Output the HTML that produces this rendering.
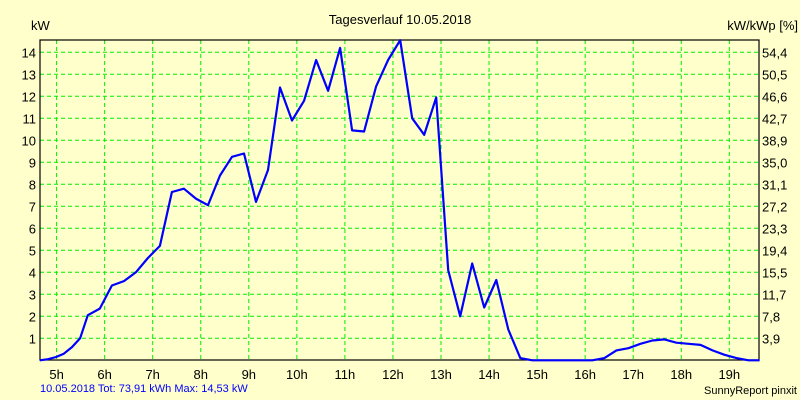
<!DOCTYPE html>
<html><head><meta charset="utf-8"><style>
body{margin:0;background:#ffffcc;}
svg{display:block;font-family:"Liberation Sans",sans-serif;}
</style></head><body>
<svg id="chart" width="800" height="400" viewBox="0 0 800 400">
<rect x="0" y="0" width="800" height="400" fill="#ffffcc"/>
<text x="400" y="24" text-anchor="middle" font-size="13" fill="#000">Tagesverlauf 10.05.2018</text>
<text x="31" y="30" font-size="13" fill="#000">kW</text>
<text x="798" y="30" text-anchor="end" font-size="13" fill="#000">kW/kWp [%]</text>
<g id="grid"></g>
<g id="labels"></g>
<rect x="40" y="40" width="719" height="320" fill="none" stroke="#000" stroke-width="1.2"/>
<polyline id="series" fill="none" stroke="#0000ff" stroke-width="2.2" stroke-linejoin="round"/>
<text x="40" y="392" font-size="11" fill="#0000ff">10.05.2018 Tot: 73,91 kWh Max: 14,53 kW</text>
<text x="797" y="394" text-anchor="end" font-size="11" fill="#000">SunnyReport pinxit</text>
</svg>
<script>
const hourTicks=[5,6,7,8,9,10,11,12,13,14,15,16,17,18,19];
const kwTicks=[1,2,3,4,5,6,7,8,9,10,11,12,13,14];
const pctLabels=["3,9","7,8","11,7","15,5","19,4","23,3","27,2","31,1","35,0","38,9","42,7","46,6","50,5","54,4"];
const times=[4.65,4.82,4.99,5.15,5.32,5.49,5.65,5.9,6.15,6.4,6.65,6.9,7.15,7.4,7.65,7.9,8.15,8.4,8.65,8.9,9.15,9.4,9.65,9.9,10.15,10.4,10.65,10.9,11.15,11.4,11.65,11.9,12.15,12.4,12.65,12.9,13.15,13.4,13.65,13.9,14.15,14.4,14.65,14.9,16.15,16.4,16.65,16.9,17.15,17.4,17.65,17.9,18.15,18.4,18.65,18.9,19.15,19.4,19.63];
const power=[0,0.05,0.15,0.3,0.6,1.0,2.05,2.35,3.4,3.6,4.0,4.65,5.2,7.65,7.8,7.35,7.05,8.4,9.25,9.4,7.2,8.65,12.4,10.9,11.8,13.65,12.25,14.2,10.45,10.4,12.45,13.65,14.55,11.0,10.25,11.95,4.1,2.0,4.4,2.4,3.65,1.4,0.1,0,0,0.1,0.45,0.55,0.75,0.9,0.95,0.8,0.75,0.7,0.45,0.25,0.1,0,0];
const NS="http://www.w3.org/2000/svg";
function xs(t){return 56.6+(t-5)*48.05;}
function ys(v){return 360.3-v*22;}
const grid=document.getElementById('grid'),labels=document.getElementById('labels');
hourTicks.forEach(h=>{
  const l=document.createElementNS(NS,'line');
  
  
  l.setAttribute('x1',xs(h));l.setAttribute('x2',xs(h));l.setAttribute('y1',40);l.setAttribute('y2',360);
  l.setAttribute('stroke','#00ee00');l.setAttribute('stroke-dasharray','4,3');l.setAttribute('stroke-width','1');
  grid.appendChild(l);
  const t=document.createElementNS(NS,'text');
  
  
  t.setAttribute('x',xs(h));t.setAttribute('y',379);t.setAttribute('text-anchor','middle');t.setAttribute('font-size','13');
  t.textContent=h+'h';labels.appendChild(t);
});
kwTicks.forEach((k,i)=>{
  const l=document.createElementNS(NS,'line');
  
  
  l.setAttribute('x1',40);l.setAttribute('x2',759);l.setAttribute('y1',ys(k));l.setAttribute('y2',ys(k));
  l.setAttribute('stroke','#00ee00');l.setAttribute('stroke-dasharray','4,3');l.setAttribute('stroke-width','1');
  grid.appendChild(l);
  const t=document.createElementNS(NS,'text');
  
  
  t.setAttribute('x',36);t.setAttribute('y',ys(k)+5);t.setAttribute('text-anchor','end');t.setAttribute('font-size','13');
  t.textContent=k;labels.appendChild(t);
  const r=document.createElementNS(NS,'text');
  
  
  r.setAttribute('x',762);r.setAttribute('y',ys(k)+5);r.setAttribute('font-size','13');
  r.textContent=pctLabels[i];labels.appendChild(r);
});
document.getElementById('series').setAttribute('points',times.map((t,i)=>xs(t).toFixed(1)+','+ys(power[i]).toFixed(1)).join(' '));
</script>
</body></html>
